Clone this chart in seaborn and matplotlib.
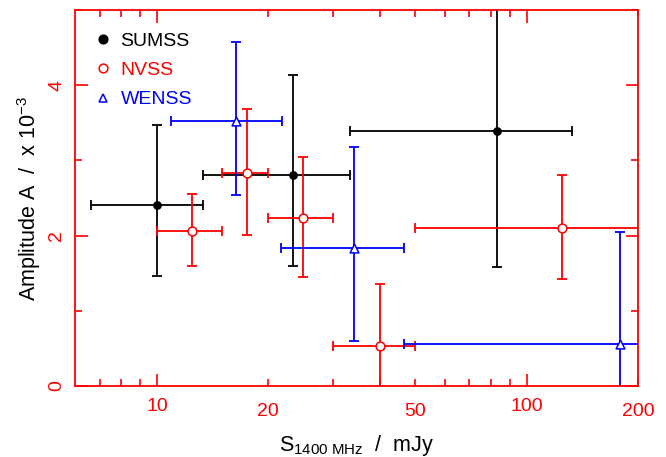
import numpy as np
import pandas as pd
import matplotlib
matplotlib.use("Agg")
import matplotlib.pyplot as plt
import matplotlib.ticker as mticker
from matplotlib.lines import Line2D
import seaborn as sns

# ---- data ----
sumss_x = [10.0, 23.3, 83.1]
sumss_xlo = [6.63, 13.3, 33.2]
sumss_xhi = [13.3, 33.2, 133.0]
sumss_y = [2.41, 2.80, 3.39]
sumss_ylo = [1.46, 1.60, 1.58]
sumss_yhi = [3.47, 4.13, 5.20]

nvss_x = [12.45, 17.5, 24.9, 40.1, 124.6]
nvss_xlo = [10.0, 14.96, 20.0, 30.0, 50.0]
nvss_xhi = [14.96, 20.0, 30.0, 50.0, 310.0]
nvss_y = [2.06, 2.83, 2.23, 0.53, 2.10]
nvss_ylo = [1.59, 2.01, 1.45, -0.30, 1.42]
nvss_yhi = [2.55, 3.68, 3.04, 1.36, 2.81]

wenss_x = [16.35, 34.1, 178.4]
wenss_xlo = [10.9, 21.7, 46.5]
wenss_xhi = [21.8, 46.5, 700.0]
wenss_y = [3.52, 1.84, 0.56]
wenss_ylo = [2.54, 0.60, -0.93]
wenss_yhi = [4.58, 3.18, 2.05]

x_ticklabels = ["10", "20", "50", "100", "200"]
y_ticklabels = ["0", "2", "4"]

red = "#ff0000"
blue = "#0000ff"
series = [
    ("SUMSS", sumss_x, sumss_xlo, sumss_xhi, sumss_y, sumss_ylo, sumss_yhi, "black", "o", "black"),
    ("NVSS", nvss_x, nvss_xlo, nvss_xhi, nvss_y, nvss_ylo, nvss_yhi, red, "o", "none"),
    ("WENSS", wenss_x, wenss_xlo, wenss_xhi, wenss_y, wenss_ylo, wenss_yhi, blue, "^", "none"),
]

rows = []
for name, x, xlo, xhi, y, ylo, yhi, c, m, fc in series:
    for i in range(len(x)):
        rows.append(dict(survey=name, S=x[i], A=y[i]))
df = pd.DataFrame(rows)

sns.set_style("ticks")
plt.rcParams['font.family'] = ['Liberation Sans', 'DejaVu Sans']
plt.rcParams['mathtext.fontset'] = 'custom'
plt.rcParams['mathtext.rm'] = 'Liberation Sans'
plt.rcParams['mathtext.it'] = 'Liberation Sans'

fig = plt.figure(figsize=(6.66, 4.57), dpi=100)
ax = fig.add_axes([75/666, 1-386/457, (638-75)/666, (386-10)/457])

for name, x, xlo, xhi, y, ylo, yhi, c, m, fc in series:
    x = np.array(x); y = np.array(y)
    xerr = [x - np.array(xlo), np.array(xhi) - x]
    yerr = [y - np.array(ylo), np.array(yhi) - y]
    ax.errorbar(x, y, xerr=xerr, yerr=yerr, fmt='none', ecolor=c,
                elinewidth=1.3, capsize=3.5, capthick=1.3, zorder=2)

for name, x, xlo, xhi, y, ylo, yhi, c, m, fc in series:
    sub = df[df.survey == name]
    if fc == "none":
        sns.scatterplot(data=sub, x="S", y="A", ax=ax, marker=m, s=40,
                        facecolor="white", edgecolor=c, linewidth=1.1, zorder=3, legend=False)
    else:
        sns.scatterplot(data=sub, x="S", y="A", ax=ax, marker=m, s=40,
                        color=c, edgecolor=c, linewidth=0, zorder=3, legend=False)

ax.set_xscale("log")
ax.set_xlim(6.0, 200)
ax.set_ylim(0, 5)

for sp in ax.spines.values():
    sp.set_color(red)
    sp.set_linewidth(1.3)

ax.xaxis.set_major_locator(mticker.FixedLocator([10, 100]))
ax.xaxis.set_major_formatter(mticker.FixedFormatter([x_ticklabels[0], x_ticklabels[3]]))
minors = [7, 8, 9, 20, 30, 40, 50, 60, 70, 80, 90, 200]
ax.xaxis.set_minor_locator(mticker.FixedLocator(minors))
lab = {20: x_ticklabels[1], 50: x_ticklabels[2], 200: x_ticklabels[4]}
ax.xaxis.set_minor_formatter(mticker.FuncFormatter(lambda v, p: lab.get(int(round(v)), "")))

ax.yaxis.set_major_locator(mticker.FixedLocator([0, 2, 4]))
ax.yaxis.set_major_formatter(mticker.FixedFormatter(y_ticklabels))
ax.yaxis.set_minor_locator(mticker.FixedLocator([1, 3, 5]))

ax.tick_params(which='both', direction='in', top=True, right=True, color=red,
               labelcolor=red, labelsize=14, width=1.2)
ax.tick_params(which='major', length=9)
ax.tick_params(which='minor', length=5)
ax.tick_params(axis='x', which='minor', pad=12.5)
ax.tick_params(axis='x', which='major', pad=8.5)
ax.tick_params(axis='y', which='major', pad=7)
for t in ax.get_yticklabels():
    t.set_rotation(90)
    t.set_va('center')

ax.set_xlabel(r"S$_{\rm 1400\ MHz}$  /  mJy", fontsize=15.5, color="black", labelpad=9)
ax.set_ylabel(r"Amplitude A  /  x 10$^{-3}$", fontsize=15.5, color="black", labelpad=4)

# legend
handles = [
    Line2D([], [], marker='o', ls='none', color='black', markersize=6.3),
    Line2D([], [], marker='o', ls='none', markeredgecolor=red, markerfacecolor='none', markersize=6.3, markeredgewidth=1.1),
    Line2D([], [], marker='^', ls='none', markeredgecolor=blue, markerfacecolor='none', markersize=6.3, markeredgewidth=1.1),
]
leg = ax.legend(handles, ["SUMSS", "NVSS", "WENSS"], loc='upper left', frameon=False,
                fontsize=14, handlelength=0.8, handletextpad=0.5, labelspacing=0.6,
                borderaxespad=0.55, bbox_to_anchor=(0.003, 0.99))
for t, c in zip(leg.get_texts(), ["black", red, blue]):
    t.set_color(c)

fig.savefig("out.png", dpi=100)
